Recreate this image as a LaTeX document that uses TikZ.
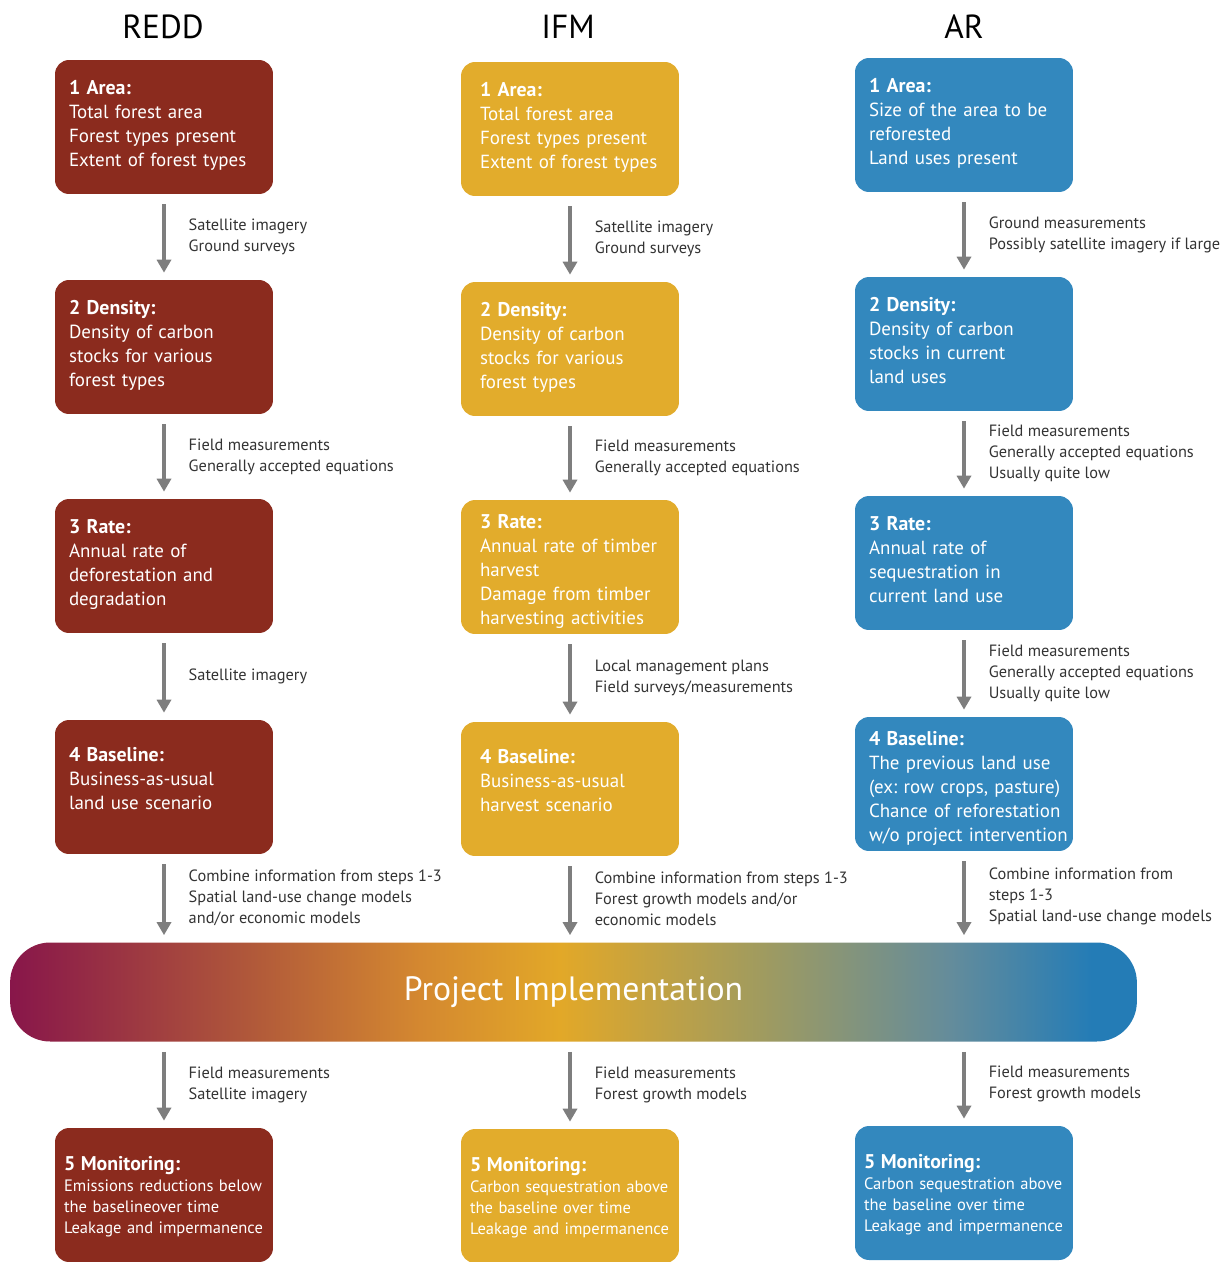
\documentclass[tikz,border=0pt]{standalone}
\usepackage{fontspec}
\setmainfont{PT Sans}
\usetikzlibrary{arrows.meta}
\definecolor{redd}{HTML}{8B2B1E}
\definecolor{ifm}{HTML}{E2AC2C}
\definecolor{ar}{HTML}{3388BE}
\definecolor{arrowgray}{HTML}{7E7E7E}
\definecolor{notegray}{HTML}{333333}
\definecolor{implA}{RGB}{136,22,74}
\definecolor{implB}{RGB}{176,88,58}
\definecolor{implC}{RGB}{212,136,48}
\definecolor{implD}{RGB}{226,168,40}
\definecolor{implE}{RGB}{160,155,95}
\definecolor{implF}{RGB}{100,140,155}
\definecolor{implG}{RGB}{36,124,182}
\pgfdeclarehorizontalshading{implshade}{100bp}{color(0bp)=(implA); color(25bp)=(implA); color(35.6bp)=(implB); color(43.2bp)=(implC); color(49.4bp)=(implD); color(58.3bp)=(implE); color(66.7bp)=(implF); color(73bp)=(implG); color(100bp)=(implG)}
\tikzset{
	stepbox/.style={rounded corners=0.28cm, minimum width=4.36cm, text width=3.8cm, inner xsep=0.28cm, inner ysep=0pt, align=left, text=white, font=\fontsize{10.8}{13.66}\selectfont},
	box3/.style={stepbox, text height=0.82cm, text depth=1.86cm},
	box4/.style={stepbox, text height=0.68cm, text depth=2.0cm},
	box5/.style={stepbox, text height=0.57cm, text depth=2.11cm},
	monbox/.style={stepbox, text width=4.0cm, inner xsep=0.18cm, font=\fontsize{9.4}{11.95}\selectfont, text height=0.85cm, text depth=1.83cm},
	ifmcol/.style={fill=ifm, execute at begin node={\leftskip=0.1cm\relax}},
	flow/.style={draw=arrowgray, line width=0.07cm, -{Triangle[width=0.28cm,length=0.26cm]}, shorten <=0.2cm, shorten >=0.14cm},
	note/.style={midway, anchor=west, xshift=0.46cm, inner sep=0pt, align=left, text=notegray, font=\fontsize{9.3}{11.95}\selectfont},
	coltitle/.style={font=\fontsize{19}{21}\selectfont}
}
\newcommand\hd[1]{{\fontsize{11.3}{12}\selectfont\bfseries #1}}
\begin{document}
\begin{tikzpicture}[x=0.02cm, y=-0.02cm]
	\useasboundingbox (0,0) rectangle (1222,1262);
	\node[coltitle] (tredd) at (163,27) {REDD};
	\node[coltitle] (tifm) at (568,27) {IFM};
	\node[coltitle] (tar) at (964,27) {AR};

	\node[box4, fill=redd] (r1) at (164,127) {\hd{1 Area:}\\Total forest area\\Forest types present\\Extent of forest types};
	\node[box4, fill=redd] (r2) at (164,347) {\hd{2 Density:}\\Density of carbon\\stocks for various\\forest types};
	\node[box4, fill=redd] (r3) at (164,566) {\hd{3 Rate:}\\Annual rate of\\deforestation and\\degradation};
	\node[box3, fill=redd] (r4) at (164,787) {\hd{4 Baseline:}\\Business-as-usual\\land use scenario};
	\node[monbox, fill=redd] (r5) at (164,1195) {\hd{5 Monitoring:}\\Emissions reductions below\\the baselineover time\\Leakage and impermanence};

	\node[box4, ifmcol] (i1) at (570,129) {\hd{1 Area:}\\Total forest area\\Forest types present\\Extent of forest types};
	\node[box4, ifmcol] (i2) at (570,349) {\hd{2 Density:}\\Density of carbon\\stocks for various\\forest types};
	\node[box5, ifmcol] (i3) at (570,567) {\hd{3 Rate:}\\\mbox{Annual rate of timber}\\harvest\\Damage from timber\\\mbox{harvesting activities}};
	\node[box3, ifmcol] (i4) at (570,789) {\hd{4 Baseline:}\\Business-as-usual\\harvest scenario};
	\node[monbox, fill=ifm] (i5) at (570,1196) {\hd{5 Monitoring:}\\Carbon sequestration above\\the baseline over time\\Leakage and impermanence};

	\node[box4, fill=ar] (a1) at (964,125) {\hd{1 Area:}\\Size of the area to be\\reforested\\Land uses present};
	\node[box4, fill=ar] (a2) at (964,344) {\hd{2 Density:}\\Density of carbon\\stocks in current\\land uses};
	\node[box4, fill=ar] (a3) at (964,563) {\hd{3 Rate:}\\Annual rate of\\sequestration in\\current land use};
	\node[box5, fill=ar] (a4) at (964,784) {\hd{4 Baseline:}\\\mbox{The previous land use}\\\mbox{(ex:\ row crops, pasture)}\\\mbox{Chance of reforestation}\\\mbox{w/o project intervention}};
	\node[monbox, fill=ar] (a5) at (964,1193) {\hd{5 Monitoring:}\\Carbon sequestration above\\the baseline over time\\Leakage and impermanence};

	\node[rounded corners=0.8cm, minimum width=22.54cm, minimum height=1.98cm, shading=implshade, text=white, font=\fontsize{19.2}{22}\selectfont] (impl) at (573.5,992) {Project Implementation};

	\draw[flow] (r1) -- (r2) node[note] {Satellite imagery\\Ground surveys};
	\draw[flow] (r2) -- (r3) node[note] {Field measurements\\Generally accepted equations};
	\draw[flow] (r3) -- (r4) node[note] {Satellite imagery};
	\draw[flow] (r4) -- (r4 |- impl.north) node[note] {Combine information from steps 1-3\\Spatial land-use change models\\and/or economic models};
	\draw[flow] (r5 |- impl.south) -- (r5) node[note] {Field measurements\\Satellite imagery};

	\draw[flow] (i1) -- (i2) node[note] {Satellite imagery\\Ground surveys};
	\draw[flow] (i2) -- (i3) node[note] {Field measurements\\Generally accepted equations};
	\draw[flow] (i3) -- (i4) node[note] {Local management plans\\Field surveys/measurements};
	\draw[flow] (i4) -- (i4 |- impl.north) node[note] {Combine information from steps 1-3\\Forest growth models and/or\\economic models};
	\draw[flow] (i5 |- impl.south) -- (i5) node[note] {Field measurements\\Forest growth models};

	\draw[flow] (a1) -- (a2) node[note] {Ground measurements\\Possibly satellite imagery if large};
	\draw[flow] (a2) -- (a3) node[note] {Field measurements\\Generally accepted equations\\Usually quite low};
	\draw[flow] (a3) -- (a4) node[note] {Field measurements\\Generally accepted equations\\Usually quite low};
	\draw[flow] (a4) -- (a4 |- impl.north) node[note] {Combine information from\\steps 1-3\\Spatial land-use change models};
	\draw[flow] (a5 |- impl.south) -- (a5) node[note] {Field measurements\\Forest growth models};
\end{tikzpicture}
\end{document}
